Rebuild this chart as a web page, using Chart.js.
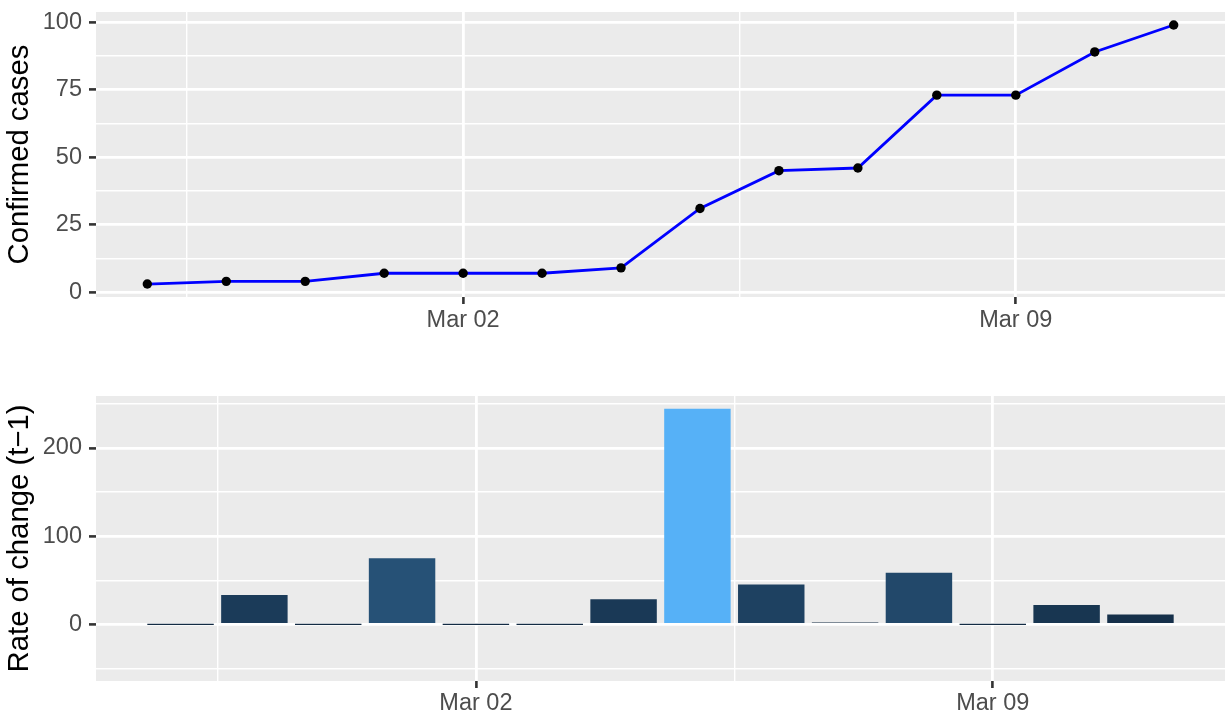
<!DOCTYPE html>
<html><head><meta charset="utf-8">
<script src="https://cdn.jsdelivr.net/npm/chart.js@4.4.1/dist/chart.umd.min.js"></script>
<style>
html,body{margin:0;padding:0;background:#fff;}
#wrap{position:relative;width:1225px;height:715px;overflow:hidden;background:#fff;}
canvas{position:absolute;left:0;}
#c1{top:0}
#c2{top:345px}
</style></head><body>
<div id="wrap"><canvas id="c1" width="1225" height="345"></canvas><canvas id="c2" width="1225" height="370"></canvas></div>
<script>
// ---- data ----
const dates = ['2020-02-27','2020-02-28','2020-02-29','2020-03-01','2020-03-02','2020-03-03','2020-03-04',
               '2020-03-05','2020-03-06','2020-03-07','2020-03-08','2020-03-09','2020-03-10','2020-03-11'];
const confirmedCases = [3, 4, 4, 7, 7, 7, 9, 31, 45, 46, 73, 73, 89, 99];
const rateOfChange = [0, 33.3, 0, 75.0, 0, 0, 28.6, 244.4, 45.2, 2.2, 58.7, 0, 21.9, 11.2];
const xTickDates = ['2020-03-02', '2020-03-09'];
const xTickLabels = ['Mar 02', 'Mar 09'];
const yTicksTop = [0, 25, 50, 75, 100];
const yTicksBottom = [0, 100, 200];
const yTitleTop = 'Confirmed cases';
const yTitleBottom = 'Rate of change (t\u22121)';

// ---- helpers ----
const DAY = 86400000;
const t0 = Date.parse(dates[0]);
const dayOf = d => (Date.parse(d) - t0) / DAY;
const xs = dates.map(dayOf);
const xMajors = xTickDates.map(dayOf);

function buildTicks(majors, min, max) {
  const step = majors.length > 1 ? majors[1] - majors[0] : 1;
  const out = [];
  const set = new Set();
  majors.forEach(m => { out.push({value: m, minor: false}); set.add(m); });
  majors.forEach(m => {
    [m - step / 2, m + step / 2].forEach(v => {
      if (v >= min && v <= max && !set.has(v)) { set.add(v); out.push({value: v, minor: true}); }
    });
  });
  out.sort((a, b) => a.value - b.value);
  return out;
}

// CIELAB interpolation (like ggplot2's default continuous fill)
function hex2rgb(h){return [1,3,5].map(i=>parseInt(h.substr(i,2),16));}
function toLin(c){c/=255;return c<=0.04045?c/12.92:Math.pow((c+0.055)/1.055,2.4);}
function fromLin(c){const v=c<=0.0031308?12.92*c:1.055*Math.pow(c,1/2.4)-0.055;return Math.max(0,Math.min(255,Math.round(v*255)));}
const WN=[0.95047,1,1.08883];
function fLab(t){return t>216/24389?Math.cbrt(t):(24389/27*t+16)/116;}
function fInv(t){const t3=t*t*t;return t3>216/24389?t3:(116*t-16)/(24389/27);}
function rgb2lab(rgb){
  const [r,g,b]=rgb.map(toLin);
  const X=(0.4124564*r+0.3575761*g+0.1804375*b)/WN[0];
  const Y=(0.2126729*r+0.7151522*g+0.0721750*b)/WN[1];
  const Z=(0.0193339*r+0.1191920*g+0.9503041*b)/WN[2];
  const fx=fLab(X),fy=fLab(Y),fz=fLab(Z);
  return [116*fy-16,500*(fx-fy),200*(fy-fz)];
}
function lab2rgb(lab){
  const fy=(lab[0]+16)/116,fx=fy+lab[1]/500,fz=fy-lab[2]/200;
  const X=fInv(fx)*WN[0],Y=fInv(fy)*WN[1],Z=fInv(fz)*WN[2];
  const r=3.2404542*X-1.5371385*Y-0.4985314*Z;
  const g=-0.9692660*X+1.8760108*Y+0.0415560*Z;
  const b=0.0556434*X-0.2040259*Y+1.0572252*Z;
  return 'rgb('+fromLin(r)+','+fromLin(g)+','+fromLin(b)+')';
}
const labLow=rgb2lab(hex2rgb('#132B43')), labHigh=rgb2lab(hex2rgb('#56B1F7'));
function fillFor(v, lo, hi){
  const t=(v-lo)/(hi-lo);
  return lab2rgb(labLow.map((c,i)=>c+(labHigh[i]-c)*t));
}

const FONT = "'Liberation Sans', Arial, Helvetica, sans-serif";
const TICK_SIZE = 23.5, TITLE_SIZE = 29.3;
const panelBg = {
  id: 'panelBg',
  beforeDraw(chart) {
    const {ctx, chartArea: a} = chart;
    ctx.save(); ctx.fillStyle = '#EBEBEB';
    ctx.fillRect(a.left, a.top, a.right - a.left, a.bottom - a.top);
    ctx.restore();
  }
};

function zeroPad(s) { s.paddingTop = 0; s.paddingBottom = 0; s.paddingLeft = 0; s.paddingRight = 0; }

function gridOpts() {
  return {
    color: '#FFFFFF',
    lineWidth: c => (c.tick && c.tick.minor) ? 1.4 : 2.8,
    drawTicks: true,
    tickLength: 7,
    tickWidth: 2.6,
    tickColor: c => (c.tick && c.tick.minor) ? 'rgba(0,0,0,0)' : '#333333'
  };
}

function xScale(min, max, axisHeight, pad) {
  return {
    type: 'linear', min, max, offset: false,
    border: {display: false},
    grid: Object.assign(gridOpts(), {offset: false}),
    ticks: {
      autoSkip: false, maxRotation: 0, padding: pad, color: '#4D4D4D',
      font: {family: FONT, size: TICK_SIZE},
      callback: (v, i, ticks) => ticks[i].minor ? '' : xTickLabels[xMajors.indexOf(v)]
    },
    afterBuildTicks: s => { s.ticks = buildTicks(xMajors, min, max); },
    afterFit: s => { s.height = axisHeight; zeroPad(s); }
  };
}
function yScale(min, max, majors, title) {
  return {
    type: 'linear', min, max,
    border: {display: false},
    grid: gridOpts(),
    ticks: {
      autoSkip: false, padding: 7, color: '#4D4D4D',
      font: {family: FONT, size: TICK_SIZE},
      callback: (v, i, ticks) => ticks[i].minor ? '' : String(v)
    },
    title: {display: true, text: title, color: '#000000',
            font: {family: FONT, size: TITLE_SIZE, lineHeight: 1.2}, padding: {top: 2, bottom: 0}},
    afterBuildTicks: s => { s.ticks = buildTicks(majors, min, max); },
    afterFit: s => { s.width = 96; zeroPad(s); }
  };
}

const common = {
  responsive: false, animation: false, devicePixelRatio: 1,
  plugins: {legend: {display: false}, tooltip: {enabled: false}}
};

// ---- top: confirmed cases ----
const spanTop = xs[xs.length - 1] - xs[0];
new Chart(document.getElementById('c1'), {
  type: 'line',
  data: {datasets: [{
    data: xs.map((x, i) => ({x, y: confirmedCases[i]})),
    borderColor: '#0000FF', borderWidth: 2.8, tension: 0,
    pointRadius: 4.7, pointBackgroundColor: '#000000', pointBorderWidth: 0, pointHoverRadius: 4.7
  }]},
  options: Object.assign({}, common, {
    layout: {autoPadding: false, padding: {top: 12, left: 0, right: 0, bottom: 0}},
    scales: {
      x: xScale(xs[0] - 0.05 * spanTop, xs[xs.length - 1] + 0.05 * spanTop, 48, 2),
      y: yScale(-1.8, 103.8, yTicksTop, yTitleTop)
    }
  }),
  plugins: [panelBg]
});

// ---- bottom: rate of change ----
const lo = Math.min(...rateOfChange), hi = Math.max(...rateOfChange);
const barLo = xs[0] - 0.45, barHi = xs[xs.length - 1] + 0.45, spanB = barHi - barLo;
new Chart(document.getElementById('c2'), {
  type: 'bar',
  data: {datasets: [{
    data: xs.map((x, i) => ({x, y: rateOfChange[i]})),
    backgroundColor: rateOfChange.map(v => fillFor(v, lo, hi)),
    borderWidth: 0, barPercentage: 0.9, categoryPercentage: 1.0, minBarLength: 1.3
  }]},
  options: Object.assign({}, common, {
    layout: {autoPadding: false, padding: {top: 51, left: 0, right: 0, bottom: 0}},
    scales: {
      x: xScale(barLo - 0.05 * spanB, barHi + 0.05 * spanB, 34, 1),
      y: yScale(-64.1, 258.9, yTicksBottom, yTitleBottom)
    }
  }),
  plugins: [panelBg]
});
</script>
</body></html>
